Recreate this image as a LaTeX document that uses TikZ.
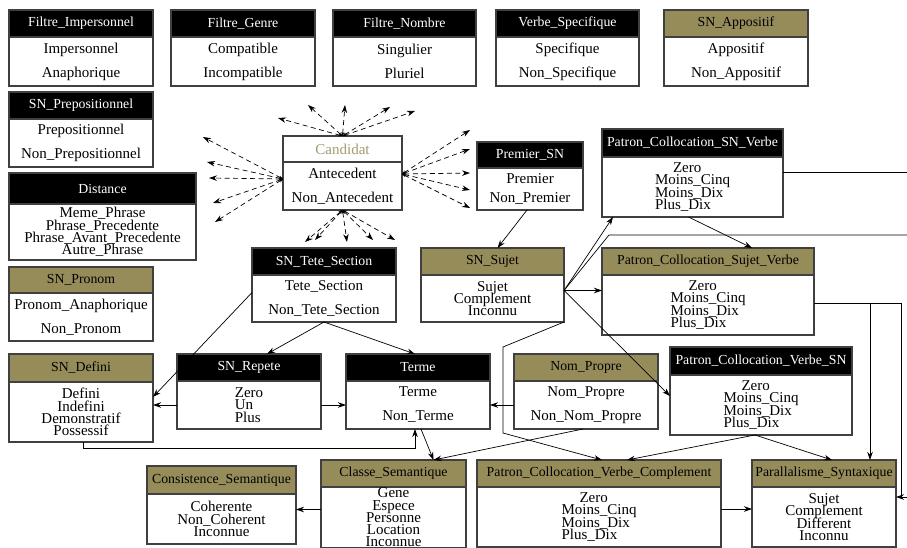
\documentclass[tikz,border=0pt]{standalone}
\usepackage{fontspec}
\setmainfont{Liberation Serif}
\usetikzlibrary{positioning,arrows.meta}
\definecolor{kaki}{RGB}{150,140,90}
\definecolor{kakiclair}{RGB}{163,155,112}

\begin{document}
\begin{tikzpicture}[x=1pt, y=-1pt,
    entete/.style={draw=black!75, fill=black, text=white, line width=1.1pt, inner sep=0pt, outer sep=0pt, anchor=north west, font=\fontsize{13.8}{16}\selectfont},
    entetekaki/.style={entete, fill=kaki, text=black},
    valeurs/.style={draw=black!75, fill=white, line width=1.1pt, inner sep=0pt, outer sep=0pt, align=center, font=\fontsize{15}{24}\selectfont},
    serre/.style={valeurs, font={\fontsize{15}{12.3}\selectfont\lineskiplimit=-20pt\relax}},
    fleche/.style={-{Stealth[length=8pt,width=5.5pt]}, line width=0.7pt},
    pointille/.style={{Stealth[length=4pt,width=3pt]}-{Stealth[length=8pt,width=5.5pt]}, dash pattern=on 5pt off 3.5pt, line width=0.7pt}]

    \useasboundingbox (0,0) rectangle (907,548);

    % Filtres du haut
    \node[entete, minimum width=144, minimum height=27] (fimp) at (9,10) {Filtre\_Impersonnel};
    \node[valeurs, below=0pt of fimp, minimum width=144, minimum height=49] (fimp-v) {Impersonnel\\Anaphorique};

    \node[entete, minimum width=144, minimum height=27] (fgenre) at (171,10) {Filtre\_Genre};
    \node[valeurs, below=0pt of fgenre, minimum width=144, minimum height=49] (fgenre-v) {Compatible\\Incompatible};

    \node[entete, minimum width=143, minimum height=27] (fnombre) at (333,10) {Filtre\_Nombre};
    \node[valeurs, below=0pt of fnombre, minimum width=143, minimum height=49] (fnombre-v) {Singulier\\Pluriel};

    \node[entete, minimum width=143, minimum height=27] (vspec) at (496,10) {Verbe\_Specifique};
    \node[valeurs, below=0pt of vspec, minimum width=143, minimum height=49] (vspec-v) {Specifique\\Non\_Specifique};

    \node[entetekaki, minimum width=144, minimum height=27] (appos) at (664,10) {SN\_Appositif};
    \node[valeurs, below=0pt of appos, minimum width=144, minimum height=49] (appos-v) {Appositif\\Non\_Appositif};

    % Colonne de gauche
    \node[entete, minimum width=144, minimum height=27] (prep) at (9,92) {SN\_Prepositionnel};
    \node[valeurs, below=0pt of prep, minimum width=144, minimum height=48] (prep-v) {Prepositionnel\\Non\_Prepositionnel};

    \node[entete, minimum width=187, minimum height=31] (dist) at (9,173) {Distance};
    \node[serre, below=0pt of dist, minimum width=187, minimum height=56] (dist-v) {Meme\_Phrase\\Phrase\_Precedente\\Phrase\_Avant\_Precedente\\Autre\_Phrase};

    \node[entetekaki, minimum width=144, minimum height=26] (pronom) at (9,267) {SN\_Pronom};
    \node[valeurs, below=0pt of pronom, minimum width=144, minimum height=48] (pronom-v) {Pronom\_Anaphorique\\Non\_Pronom};

    \node[entetekaki, minimum width=144, minimum height=28] (defini) at (9,354) {SN\_Defini};
    \node[serre, below=0pt of defini, minimum width=144, minimum height=60] (defini-v) {Defini\\Indefini\\Demonstratif\\Possessif};

    % Candidat et voisins
    \node[entete, fill=white, text=kakiclair, font=\fontsize{15}{18}\selectfont, minimum width=119, minimum height=26] (cand) at (283,136) {Candidat};
    \node[valeurs, below=0pt of cand, minimum width=119, minimum height=48] (cand-v) {Antecedent\\Non\_Antecedent};

    \node[entete, minimum width=106, minimum height=26] (premier) at (477,142) {Premier\_SN};
    \node[valeurs, font=\fontsize{15}{19}\selectfont, below=0pt of premier, minimum width=106, minimum height=42] (premier-v) {Premier\\Non\_Premier};

    \node[entete, minimum width=181, minimum height=28] (pcsv) at (602,129) {Patron\_Collocation\_SN\_Verbe};
    \node[serre, align=left, below=0pt of pcsv, minimum width=181, minimum height=60] (pcsv-v) {\hspace*{18pt}Zero\\Moins\_Cinq\\Moins\_Dix\\Plus\_Dix};

    \node[entete, minimum width=144, minimum height=27] (tete) at (252,248) {SN\_Tete\_Section};
    \node[valeurs, below=0pt of tete, minimum width=144, minimum height=47] (tete-v) {Tete\_Section\\Non\_Tete\_Section};

    \node[entetekaki, minimum width=143, minimum height=27] (sujet) at (421,248) {SN\_Sujet};
    \node[serre, below=0pt of sujet, minimum width=143, minimum height=47] (sujet-v) {Sujet\\Complement\\Inconnu};

    \node[entetekaki, minimum width=212, minimum height=27] (pcsujv) at (602,248) {Patron\_Collocation\_Sujet\_Verbe};
    \node[serre, align=left, below=0pt of pcsujv, minimum width=212, minimum height=60] (pcsujv-v) {\hspace*{18pt}Zero\\Moins\_Cinq\\Moins\_Dix\\Plus\_Dix};

    % Rangee du milieu
    \node[entete, minimum width=144, minimum height=27] (repete) at (177,354) {SN\_Repete};
    \node[serre, align=left, below=0pt of repete, minimum width=144, minimum height=48] (repete-v) {Zero\\Un\\Plus};

    \node[entete, minimum width=144, minimum height=27] (terme) at (346,354) {Terme};
    \node[valeurs, below=0pt of terme, minimum width=144, minimum height=48] (terme-v) {Terme\\Non\_Terme};

    \node[entetekaki, minimum width=144, minimum height=27] (npropre) at (514,354) {Nom\_Propre};
    \node[valeurs, below=0pt of npropre, minimum width=144, minimum height=48] (npropre-v) {Nom\_Propre\\Non\_Nom\_Propre};

    \node[entete, minimum width=182, minimum height=28] (pcvsn) at (670,347) {Patron\_Collocation\_Verbe\_SN};
    \node[serre, align=left, below=0pt of pcvsn, minimum width=182, minimum height=60] (pcvsn-v) {\hspace*{18pt}Zero\\Moins\_Cinq\\Moins\_Dix\\Plus\_Dix};

    % Rangee du bas
    \node[entetekaki, minimum width=149, minimum height=28] (consist) at (147,466) {Consistence\_Semantique};
    \node[serre, below=0pt of consist, minimum width=149, minimum height=50] (consist-v) {Coherente\\Non\_Coherent\\Inconnue};

    \node[entetekaki, minimum width=145, minimum height=27] (classe) at (321,460) {Classe\_Semantique};
    \node[serre, below=0pt of classe, minimum width=145, minimum height=61] (classe-v) {Gene\\Espece\\Personne\\Location\\Inconnue};

    \node[entetekaki, minimum width=244, minimum height=27] (pcvc) at (477,460) {Patron\_Collocation\_Verbe\_Complement};
    \node[serre, align=left, below=0pt of pcvc, minimum width=244, minimum height=60] (pcvc-v) {\hspace*{18pt}Zero\\Moins\_Cinq\\Moins\_Dix\\Plus\_Dix};

    \node[entetekaki, minimum width=144, minimum height=27] (para) at (752,460) {Parallalisme\_Syntaxique};
    \node[serre, below=0pt of para, minimum width=144, minimum height=60] (para-v) {Sujet\\Complement\\Different\\Inconnu};

    % Fleches pointillees autour de Candidat
    \coordinate (g1) at (203,137);
    \coordinate (g2) at (207,162);
    \coordinate (g3) at (209,178);
    \coordinate (g4) at (213,203);
    \coordinate (g5) at (215,222);

    \coordinate (h1) at (278,118);
    \coordinate (h2) at (308,105);
    \coordinate (h3) at (345,105);
    \coordinate (h4) at (390,107);
    \coordinate (h5) at (415,111);

    \coordinate (d1) at (470,130);
    \coordinate (d2) at (470,149);
    \coordinate (d3) at (470,173);
    \coordinate (d4) at (470,190);
    \coordinate (d5) at (470,208);

    \coordinate (b1) at (305,242);
    \coordinate (b2) at (315,240);
    \coordinate (b3) at (347,242);
    \coordinate (b4) at (373,240);
    \coordinate (b5) at (395,240);

    \draw[pointille] ([yshift=7]cand-v.west) -- (g1);
    \draw[pointille] ([yshift=7]cand-v.west) -- (g2);
    \draw[pointille] ([yshift=7]cand-v.west) -- (g3);
    \draw[pointille] ([yshift=7]cand-v.west) -- (g4);
    \draw[pointille] ([yshift=7]cand-v.west) -- (g5);

    \draw[pointille] (cand.north) -- (h1);
    \draw[pointille] (cand.north) -- (h2);
    \draw[pointille] (cand.north) -- (h3);
    \draw[pointille] (cand.north) -- (h4);
    \draw[pointille] (cand.north) -- (h5);

    \draw[pointille] ([yshift=12]cand-v.east) -- (d1);
    \draw[pointille] ([yshift=12]cand-v.east) -- (d2);
    \draw[pointille] ([yshift=12]cand-v.east) -- (d3);
    \draw[pointille] ([yshift=12]cand-v.east) -- (d4);
    \draw[pointille] ([yshift=12]cand-v.east) -- (d5);

    \draw[pointille] (cand-v.south) -- (b1);
    \draw[pointille] (cand-v.south) -- (b2);
    \draw[pointille] (cand-v.south) -- (b3);
    \draw[pointille] (cand-v.south) -- (b4);
    \draw[pointille] (cand-v.south) -- (b5);

    % Liens pleins
    \coordinate (sj) at ([yshift=8]sujet-v.east);
    \coordinate (coude1) at (609,235);
    \coordinate (coude2) at (503,347);
    \coordinate (coude3) at (503,433);
    \coordinate (coude4) at (901,497);
    \coordinate (pcsvfin) at (910,172);
    \coordinate (sujetfin) at (910,235);
    \coordinate (parafin) at (910,497);
    \coordinate (cl) at ([yshift=8]classe-v.west);
    \coordinate (vc) at ([yshift=8]pcvc-v.east);

    \draw[fleche] ([xshift=-3]premier-v.south) -- ([xshift=5]sujet.north);
    \draw[fleche] ([xshift=-4]pcsv-v.south) -- ([xshift=44]pcsujv.north);
    \draw[line width=0.7pt] (pcsvfin -| pcsv-v.east) -- (pcsvfin);

    \draw[fleche] (sj) -- ([xshift=11]pcsv-v.south west);
    \draw[line width=0.7pt] (sj) -- (coude1) -- (sujetfin);
    \draw[fleche] (sj) -- (sj -| pcsujv-v.west);
    \draw[fleche] (sj) -- ([yshift=9]pcvsn-v.west);
    \draw[fleche] (sujet-v.south east) -- (coude2) -- (coude3) -- ([xshift=3]pcvc.north);

    \draw[fleche] (tete-v.south) -- ([xshift=18]repete.north);
    \draw[fleche] (tete-v.south) -- ([xshift=-3]terme.north);
    \draw[fleche] ([yshift=6]tete-v.west) -- ([yshift=15]defini-v.east);

    \draw[fleche] (repete-v.west) -- (repete-v.west -| defini-v.east);
    \draw[fleche] (repete-v.east) -- (terme-v.west);
    \draw[fleche] ([xshift=2]defini-v.south) -- ++(0,6) -| ([xshift=-3]terme-v.south);
    \draw[fleche] ([xshift=3]terme-v.south) -- ([xshift=40]classe.north);
    \draw[fleche] (npropre-v.west) -- (terme-v.east);
    \draw[fleche] ([xshift=-3]npropre-v.south) -- ([xshift=40]classe.north);

    \draw[fleche] ([xshift=-6]pcvsn-v.south) -- ([xshift=28]pcvc.north);
    \draw[fleche] ([xshift=-6]pcvsn-v.south) -- ([xshift=8]para.north);
    \draw[fleche] ([yshift=2]pcsujv-v.east) -| ([xshift=46]para.north);
    \draw[line width=0.7pt] ([yshift=2]pcsujv-v.east) -| (coude4);
    \draw[fleche] (parafin) -- (parafin -| para-v.east);

    \draw[fleche] (cl) -- (cl -| consist-v.east);
    \draw[fleche] (vc) -- (vc -| para-v.west);

\end{tikzpicture}
\end{document}
